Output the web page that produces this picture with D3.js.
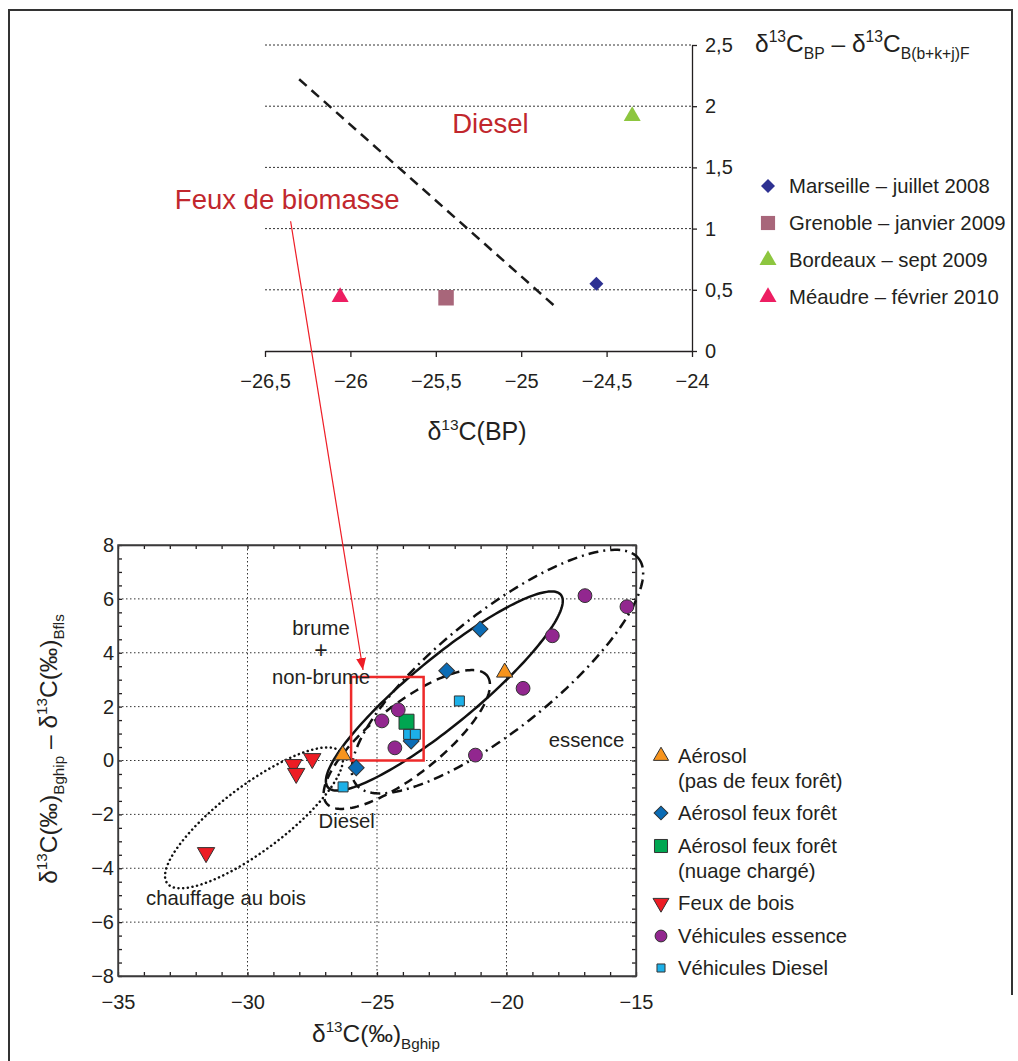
<!DOCTYPE html>
<html>
<head>
<meta charset="UTF-8">
<title>delta13C - sources</title>
<script src="https://d3js.org/d3.v7.min.js"></script>
<style>
  body { margin: 0; background: #fff; }
  svg { display: block; font-family: "Liberation Sans", Arial, Helvetica, sans-serif; }
  text { fill: #231f20; }
  .axis path, .axis line { stroke: #231f20; stroke-width: 1.3; }
  .axis text { font-size: 20px; fill: #231f20; font-family: "Liberation Sans", Arial, sans-serif; }
</style>
</head>
<body>
<div id="chart"></div>
<script>
// ---- top chart data ----
var topSites = ["Marseille – juillet 2008", "Grenoble – janvier 2009", "Bordeaux – sept 2009", "Méaudre – février 2010"];
var topX = [-24.56, -25.44, -24.35, -26.06];
var topY = [0.55, 0.435, 1.92, 0.44];
var topXTicks = [-26.5, -26, -25.5, -25, -24.5, -24];
var topYTicks = [0, 0.5, 1, 1.5, 2, 2.5];
var limitLine = [[-26.30, 2.22], [-24.79, 0.35]];

// ---- bottom chart data ----
var legendLabels = [["Aérosol", "(pas de feux forêt)"], ["Aérosol feux forêt"], ["Aérosol feux forêt", "(nuage chargé)"],
                    ["Feux de bois"], ["Véhicules essence"], ["Véhicules Diesel"]];
var aerosolNoFireX = [-20.07, -26.32];
var aerosolNoFireY = [3.27, 0.20];
var aerosolFireX = [-21.02, -22.31, -23.68, -25.80];
var aerosolFireY = [4.88, 3.33, 0.72, -0.27];
var aerosolCloudX = [-23.86];
var aerosolCloudY = [1.44];
var woodFireX = [-28.23, -28.12, -27.50, -31.6];
var woodFireY = [-0.15, -0.48, 0.07, -3.42];
var gasolineX = [-16.97, -15.35, -18.23, -19.36, -21.20, -24.81, -24.18, -24.31];
var gasolineY = [6.12, 5.71, 4.63, 2.68, 0.20, 1.47, 1.88, 0.47];
var dieselX = [-21.82, -23.78, -23.52, -26.31];
var dieselY = [2.21, 0.97, 0.97, -0.98];
var botXTicks = [-35, -30, -25, -20, -15];
var botYTicks = [-8, -6, -4, -2, 0, 2, 4, 6, 8];
// source regions: centre, end of the long axis, width ratio
var regionCentres = [[-22.4, 2.58], [-23.85, 0.78], [-20.35, 3.3], [-29.75, -2.13]];
var regionTips = [[-17.9, 6.15], [-20.75, 3.15], [-14.9, 7.5], [-26.4, 0.3]];
var regionRatios = [0.22, 0.34, 0.32, 0.3];
var zoomBox = [[-26, 0], [-23.2, 3.1]];

var W = 1018, H = 1061;
var svg = d3.select("#chart").append("svg").attr("width", W).attr("height", H);

// arrow marker
svg.append("defs").append("marker")
  .attr("id", "arrow").attr("viewBox", "0 0 12 10").attr("refX", 12).attr("refY", 5)
  .attr("markerWidth", 12).attr("markerHeight", 10).attr("markerUnits", "userSpaceOnUse")
  .attr("orient", "auto")
  .append("path").attr("d", "M0,0L12,5L0,10Z").attr("fill", "#ee1c25");

// frame
svg.append("path").attr("d", "M9,1061V10H1012V995")
  .attr("fill", "none").attr("stroke", "#333").attr("stroke-width", 2);

function rich(t, parts, size, ratio) {
  var cur = 0;
  ratio = ratio || 0.62;
  parts.forEach(function(p) {
    var target = p[1] === "sup" ? -0.4 * size : p[1] === "sub" ? 0.28 * size : 0;
    var s = t.append("tspan").text(p[0]).attr("dy", target - cur);
    if (p[1] !== "n") s.attr("font-size", size * ratio);
    cur = target;
  });
}
var fmtComma = function(d) { return d3.format("")(d).replace(".", ","); };

// ================= TOP CHART =================
var xTop = d3.scaleLinear().domain([-26.5, -24]).range([265, 692]);
var yTop = d3.scaleLinear().domain([0, 2.5]).range([351, 45]);
var topG = svg.append("g");

topG.selectAll(".tgrid").data(topYTicks.slice(1)).enter().append("line")
  .attr("x1", xTop(-26.5)).attr("x2", xTop(-24))
  .attr("y1", function(d) { return yTop(d); }).attr("y2", function(d) { return yTop(d); })
  .attr("stroke", "#333").attr("stroke-width", 1).attr("stroke-dasharray", "2,2");

topG.append("g").attr("class", "axis").attr("transform", "translate(0," + yTop(0) + ")")
  .call(d3.axisBottom(xTop).tickValues(topXTicks).tickFormat(fmtComma).tickSize(6).tickSizeOuter(0).tickPadding(17));
topG.append("g").attr("class", "axis").attr("transform", "translate(" + xTop(-24) + ",0)")
  .call(d3.axisRight(yTop).tickValues(topYTicks).tickFormat(fmtComma).tickSize(5).tickSizeOuter(0).tickPadding(8));

topG.append("line")
  .attr("x1", xTop(limitLine[0][0])).attr("y1", yTop(limitLine[0][1]))
  .attr("x2", xTop(limitLine[1][0])).attr("y2", yTop(limitLine[1][1]))
  .attr("stroke", "#1a1a1a").attr("stroke-width", 2.5).attr("stroke-dasharray", "10,6.5");

var topColors = ["#2e3192", "#a8667a", "#8dc63f", "#ed1e62"];
var topShapes = [d3.symbolSquare, d3.symbolSquare, d3.symbolTriangle, d3.symbolTriangle];
var topSizes = [98, 240, 125, 125];
var topRot = [45, 0, 0, 0];
topG.selectAll(".tpt").data(topSites).enter().append("path")
  .attr("d", function(d, i) { return d3.symbol().type(topShapes[i]).size(topSizes[i])(); })
  .attr("transform", function(d, i) { return "translate(" + xTop(topX[i]) + "," + yTop(topY[i]) + ") rotate(" + topRot[i] + ")"; })
  .attr("fill", function(d, i) { return topColors[i]; });

topG.append("text").attr("x", xTop(-25.18)).attr("y", yTop(1.78)).attr("text-anchor", "middle")
  .style("font-size", "27.5px").style("fill", "#c1272d").text("Diesel");
topG.append("text").attr("x", xTop(-26.37)).attr("y", yTop(1.16)).attr("text-anchor", "middle")
  .style("font-size", "27.5px").style("fill", "#c1272d").text("Feux de biomasse");

// top legend
var tt = topG.append("text").attr("x", 755).attr("y", 52).style("font-size", "24.5px");
rich(tt, [["δ", "n"], ["13", "sup"], ["C", "n"], ["BP", "sub"], [" – δ", "n"], ["13", "sup"], ["C", "n"], ["B(b+k+j)F", "sub"]], 24.5, 0.64);
var tl = topG.selectAll(".tleg").data(topSites).enter().append("g")
  .attr("transform", function(d, i) { return "translate(768," + (193 + i * 37) + ")"; });
tl.append("path")
  .attr("d", function(d, i) { return d3.symbol().type(topShapes[i]).size(i === 1 ? 200 : topSizes[i])(); })
  .attr("transform", function(d, i) { return "translate(0,-7) rotate(" + topRot[i] + ")"; })
  .attr("fill", function(d, i) { return topColors[i]; });
tl.append("text").attr("x", 21).style("font-size", "20.3px").text(function(d) { return d; });

var tx = topG.append("text").attr("x", 477).attr("y", 440).attr("text-anchor", "middle").style("font-size", "25px");
rich(tx, [["δ", "n"], ["13", "sup"], ["C(BP)", "n"]], 25);

// ================= BOTTOM CHART =================
var xBot = d3.scaleLinear().domain([-35, -15]).range([118, 636]);
var yBot = d3.scaleLinear().domain([-8, 8]).range([976, 545]);
var botG = svg.append("g");

botG.selectAll(".vg").data(botXTicks.slice(1, -1)).enter().append("line")
  .attr("x1", function(d) { return xBot(d); }).attr("x2", function(d) { return xBot(d); })
  .attr("y1", yBot(8)).attr("y2", yBot(-8))
  .attr("stroke", "#333").attr("stroke-width", 1).attr("stroke-dasharray", "1.5,2.5");
botG.selectAll(".hg").data(botYTicks.slice(1, -1)).enter().append("line")
  .attr("x1", xBot(-35)).attr("x2", xBot(-15))
  .attr("y1", function(d) { return yBot(d); }).attr("y2", function(d) { return yBot(d); })
  .attr("stroke", "#333").attr("stroke-width", 1).attr("stroke-dasharray", "1.5,2.5");

var minorX = d3.range(-35, -14.5, 1), minorY = d3.range(-8, 8.01, 0.5);
botG.append("g").attr("class", "axis").attr("transform", "translate(0," + yBot(-8) + ")")
  .call(d3.axisBottom(xBot).tickValues(minorX).tickFormat("").tickSize(-4).tickSizeOuter(0));
botG.append("g").attr("class", "axis").attr("transform", "translate(0," + yBot(8) + ")")
  .call(d3.axisTop(xBot).tickValues(minorX).tickFormat("").tickSize(-4).tickSizeOuter(0));
botG.append("g").attr("class", "axis").attr("transform", "translate(" + xBot(-35) + ",0)")
  .call(d3.axisLeft(yBot).tickValues(minorY).tickFormat("").tickSize(-4).tickSizeOuter(0));
botG.append("g").attr("class", "axis").attr("transform", "translate(" + xBot(-15) + ",0)")
  .call(d3.axisRight(yBot).tickValues(minorY).tickFormat("").tickSize(-4).tickSizeOuter(0));
var lx = botG.append("g").attr("class", "axis").attr("transform", "translate(0," + yBot(-8) + ")")
  .call(d3.axisBottom(xBot).tickValues(botXTicks).tickSize(0).tickPadding(19));
lx.select(".domain").remove();
var ly = botG.append("g").attr("class", "axis").attr("transform", "translate(" + xBot(-35) + ",0)")
  .call(d3.axisLeft(yBot).tickValues(botYTicks).tickSize(0).tickPadding(4));
ly.select(".domain").remove();
botG.append("rect").attr("x", xBot(-35)).attr("y", yBot(8))
  .attr("width", xBot(-15) - xBot(-35)).attr("height", yBot(-8) - yBot(8))
  .attr("fill", "none").attr("stroke", "#444").attr("stroke-width", 1.5);

// ellipses
var regionDash = [null, "9,6", "10,5,2,5", "0.1,4.6"];
var line = d3.line().curve(d3.curveLinearClosed);
regionCentres.forEach(function(c, k) {
  var cx = xBot(c[0]), cy = yBot(c[1]);
  var ax = xBot(regionTips[k][0]) - cx, ay = yBot(regionTips[k][1]) - cy;
  var ex = -ay * regionRatios[k], ey = ax * regionRatios[k];
  var pts = d3.range(0, 180).map(function(i) {
    var t = i / 180 * 2 * Math.PI;
    return [cx + ax * Math.cos(t) + ex * Math.sin(t), cy + ay * Math.cos(t) + ey * Math.sin(t)];
  });
  botG.append("path").attr("d", line(pts)).attr("fill", "none").attr("stroke", "#111")
    .attr("stroke-width", 2.5).attr("stroke-linecap", k === 3 ? "round" : "butt")
    .attr("stroke-dasharray", regionDash[k]);
});

botG.append("rect").attr("x", xBot(zoomBox[0][0])).attr("y", yBot(zoomBox[1][1]))
  .attr("width", xBot(zoomBox[1][0]) - xBot(zoomBox[0][0]))
  .attr("height", yBot(zoomBox[0][1]) - yBot(zoomBox[1][1]))
  .attr("fill", "none").attr("stroke", "#ee2a2a").attr("stroke-width", 2.5);

// point series
var series = [
  { x: aerosolNoFireX, y: aerosolNoFireY, type: d3.symbolTriangle, size: 115, rot: 0, color: "#f7941d" },
  { x: aerosolFireX, y: aerosolFireY, type: d3.symbolSquare, size: 125, rot: 45, color: "#0b6cb5" },
  { x: aerosolCloudX, y: aerosolCloudY, type: d3.symbolSquare, size: 225, rot: 0, color: "#00a651" },
  { x: woodFireX, y: woodFireY, type: d3.symbolTriangle, size: 130, rot: 180, color: "#ed1c24" },
  { x: gasolineX, y: gasolineY, type: d3.symbolCircle, size: 150, rot: 0, color: "#92278f" },
  { x: dieselX, y: dieselY, type: d3.symbolSquare, size: 100, rot: 0, color: "#1cb0e8" }
];
series.forEach(function(s) {
  botG.selectAll(null).data(s.x).enter().append("path")
    .attr("d", d3.symbol().type(s.type).size(s.size)())
    .attr("transform", function(d, i) { return "translate(" + xBot(d) + "," + yBot(s.y[i]) + ") rotate(" + s.rot + ")"; })
    .attr("fill", s.color).attr("stroke", "#333").attr("stroke-width", 1);
});

// region labels
var regionText = [["brume", -27.16, 4.66], ["+", -27.16, 3.81], ["non-brume", -27.16, 2.84],
                  ["essence", -16.91, 0.51], ["Diesel", -26.17, -2.52], ["chauffage au bois", -30.83, -5.36]];
botG.selectAll(".rl").data(regionText).enter().append("text")
  .attr("x", function(d) { return xBot(d[1]); }).attr("y", function(d) { return yBot(d[2]); })
  .attr("text-anchor", "middle").style("font-size", function(d) { return d[0] === "+" ? "23px" : "20.3px"; })
  .text(function(d) { return d[0]; });

// bottom legend
var legBase = [763, 820, 853, 910, 943, 975];
var legSizes = [100, 95, 170, 110, 110, 65];
var bl = botG.selectAll(".bleg").data(legendLabels).enter().append("g")
  .attr("transform", function(d, i) { return "translate(661," + legBase[i] + ")"; });
bl.append("path")
  .attr("d", function(d, i) { return d3.symbol().type(series[i].type).size(legSizes[i])(); })
  .attr("transform", function(d, i) { return "translate(0,-7) rotate(" + series[i].rot + ")"; })
  .attr("fill", function(d, i) { return series[i].color; }).attr("stroke", "#333").attr("stroke-width", 1);
bl.each(function(d) {
  var g = d3.select(this);
  d.forEach(function(l, j) {
    g.append("text").attr("x", 17).attr("y", j * 25).style("font-size", "20.3px").text(l);
  });
});

var bxl = botG.append("text").attr("x", 376).attr("y", 1042).attr("text-anchor", "middle").style("font-size", "24.5px");
rich(bxl, [["δ", "n"], ["13", "sup"], ["C(‰)", "n"], ["Bghip", "sub"]], 24.5);
var byl = botG.append("text").attr("transform", "translate(57,749) rotate(-90)").attr("text-anchor", "middle").style("font-size", "24.5px");
rich(byl, [["δ", "n"], ["13", "sup"], ["C(‰)", "n"], ["Bghip", "sub"], [" – δ", "n"], ["13", "sup"], ["C(‰)", "n"], ["Bfls", "sub"]], 24.5);

// arrow linking the two charts
svg.append("line")
  .attr("x1", xTop(-26.35)).attr("y1", yTop(1.06))
  .attr("x2", xBot(-25.54)).attr("y2", yBot(3.36))
  .attr("stroke", "#ee1c25").attr("stroke-width", 1.2).attr("marker-end", "url(#arrow)");
</script>
</body>
</html>
